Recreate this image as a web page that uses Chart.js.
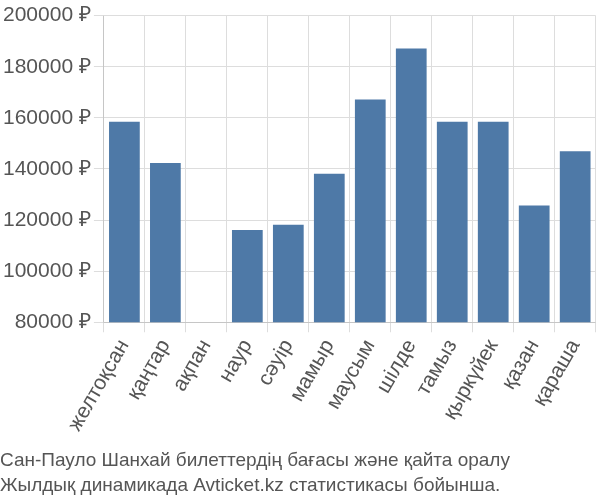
<!DOCTYPE html>
<html>
<head>
<meta charset="utf-8">
<script src="https://cdn.jsdelivr.net/npm/chart.js@4"></script>
<style>
  body { margin: 0; background: #fff; }
  #wrap { width: 600px; height: 500px; }
</style>
</head>
<body>
<div id="wrap"><canvas id="chart"></canvas></div>
<script>
const months = ['желтоқсан','қаңтар','ақпан','наур','сәуір','мамыр','маусым','шілде','тамыз','қыркүйек','қазан','қараша'];
const prices = [158500, 142300, null, 116100, 118200, 138100, 167200, 187100, 158500, 158500, 125700, 146900];
const titleLines = ['Сан-Пауло Шанхай билеттердің бағасы және қайта оралу', 'Жылдық динамикада Avticket.kz статистикасы бойынша.'];

new Chart(document.getElementById('chart'), {
  type: 'bar',
  data: {
    labels: months,
    datasets: [{
      data: prices,
      backgroundColor: '#4e79a7',
      barPercentage: 0.75,
      categoryPercentage: 1.0
    }]
  },
  options: {
    responsive: true,
    maintainAspectRatio: false,
    animation: false,
    layout: { padding: { top: 4, right: 0, left: 0 } },
    plugins: {
      legend: { display: false },
      tooltip: { enabled: false },
      title: {
        display: true,
        text: titleLines,
        position: 'bottom',
        align: 'start',
        color: '#555',
        font: { family: 'Liberation Sans, Arial, sans-serif', size: 19, weight: 'normal', lineHeight: 1.3 },
        padding: { top: 10, bottom: 2 }
      }
    },
    scales: {
      x: {
        grid: { color: '#dddddd', drawTicks: true, tickLength: 10 },
        ticks: {
          color: '#555',
          font: { family: 'Liberation Sans, Arial, sans-serif', size: 21 },
          maxRotation: 60, minRotation: 60
        }
      },
      y: {
        min: 80000, max: 200000,
        grid: { color: '#dddddd', tickLength: 10 },
        ticks: {
          stepSize: 20000,
          color: '#555',
          font: { family: 'Liberation Sans, Arial, sans-serif', size: 21 },
          callback: v => v + ' ₽'
        }
      }
    }
  }
});
</script>
</body>
</html>
